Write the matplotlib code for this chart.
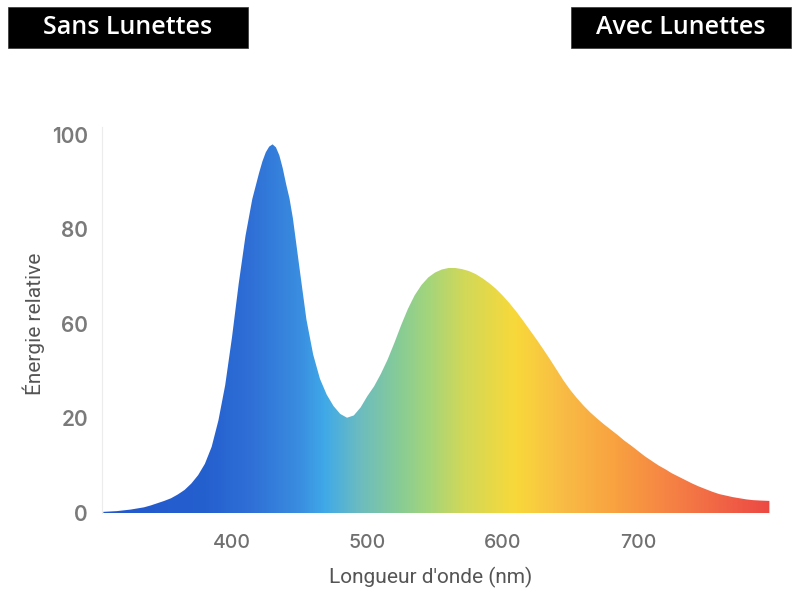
import numpy as np
import matplotlib.pyplot as plt
from matplotlib.colors import LinearSegmentedColormap
from matplotlib.patches import Rectangle

# spectrum (nm, relative energy)
wavelength = [305, 310, 315, 320, 325, 330, 335, 340, 345, 350,
              355, 360, 365, 370, 375, 380, 385, 390, 395, 400,
              405, 410, 415, 420, 422.5, 425, 427.5, 430, 432.5, 435,
              437.5, 440, 442.5, 445, 450,
              455, 460, 465, 470, 475, 480, 485, 490, 495, 500,
              505, 510, 515, 520, 525, 530, 535, 540, 545, 550,
              555, 560, 565, 570, 575, 580, 585, 590, 595, 600,
              605, 610, 615, 620, 625, 630, 635, 640, 645, 650,
              655, 660, 665, 670, 675, 680, 685, 690, 695, 700,
              705, 710, 715, 720, 725, 730, 735, 740, 745, 750,
              755, 760, 765, 770, 775, 780, 785, 790, 797]
energy = [0.3, 0.4, 0.5, 0.7, 0.9, 1.2, 1.5, 2.0, 2.6, 3.2,
          3.9, 4.9, 6.1, 7.8, 10.0, 13.0, 17.5, 24.5, 33.8, 46.4,
          60.7, 73.3, 83.0, 89.9, 93.0, 95.4, 96.9, 97.5, 96.7, 94.6,
          91.2, 87.0, 83.2, 78.0, 64.5,
          51.2, 41.9, 35.5, 31.3, 28.3, 26.2, 25.2, 25.8, 27.9, 30.9,
          33.5, 36.8, 40.6, 45.0, 49.7, 54.0, 57.6, 60.3, 62.3, 63.6,
          64.4, 64.8, 64.8, 64.5, 64.0, 63.2, 62.1, 60.8, 59.3, 57.5,
          55.5, 53.3, 50.9, 48.4, 45.9, 43.3, 40.6, 37.8, 35.0, 32.5,
          30.3, 28.3, 26.5, 24.9, 23.4, 22.0, 20.6, 19.1, 17.8, 16.4,
          15.0, 13.8, 12.6, 11.6, 10.5, 9.6, 8.7, 7.8, 7.0, 6.3,
          5.6, 5.0, 4.6, 4.2, 3.9, 3.6, 3.4, 3.3, 3.2]

x_ticks = [400, 500, 600, 700]
y_tick_pos = [0, 25, 50, 75, 100]
y_tick_labels = ['0', '20', '60', '80', '100']

# colour stops of the rainbow fill
grad_nm = [304, 380, 413, 450, 468, 494, 524, 546, 570, 609, 642, 686, 730, 775, 801]
grad_colors = ['#2358cc', '#2560cf', '#2f6fd6', '#3a8ee0', '#3fa9e8', '#6cbcc0',
               '#88cc95', '#a5d57a', '#cfd85a', '#f8d93a', '#f9be45', '#f8a040',
               '#f57e45', '#ef5a45', '#ec4743']

xmin, xmax = 304, 801
ymin, ymax = 0, 102

fig = plt.figure(figsize=(8, 5.97), dpi=100)
ax = fig.add_axes([0.1275, 0.1407, 0.841, 0.646])

stops = [(n - xmin) / (xmax - xmin) for n in grad_nm]
cmap = LinearSegmentedColormap.from_list('spec', list(zip(stops, grad_colors)))

poly = ax.fill_between(wavelength, energy, 0, color='none', lw=0)
grad = np.linspace(0, 1, 600).reshape(1, -1)
im = ax.imshow(grad, cmap=cmap, aspect='auto', extent=[xmin, xmax, ymin, ymax],
               origin='lower', interpolation='bicubic', zorder=2)
im.set_clip_path(poly.get_paths()[0], transform=ax.transData)

ax.set_xlim(xmin, xmax)
ax.set_ylim(ymin, ymax)

for s in ['top', 'right', 'bottom']:
    ax.spines[s].set_visible(False)
ax.spines['left'].set_color('#ececec')
ax.spines['left'].set_linewidth(0.8)

ax.set_xticks(x_ticks)
ax.set_xticklabels([str(t) for t in x_ticks], fontsize=14, color='#707070',
                   fontfamily='Inter', fontweight='medium')
ax.set_yticks(y_tick_pos)
ax.set_yticklabels(y_tick_labels, fontsize=15, color='#7a7a7a',
                   fontfamily='Inter', fontweight='semibold')
ax.tick_params(axis='x', length=0, pad=15)
ax.tick_params(axis='y', length=0, pad=10)

ax.set_ylabel('Énergie relative', fontsize=15, color='#555555', fontfamily='Roboto')
ax.yaxis.set_label_coords(-0.085, 0.49)
ax.set_xlabel("Longueur d'onde (nm)", fontsize=15, color='#555555', fontfamily='Roboto')
ax.xaxis.set_label_coords(0.489, -0.14)

# black header boxes
W, H = 800, 597
for (x0, x1, label) in [(8, 248, 'Sans Lunettes'), (571, 791, 'Avec Lunettes')]:
    fig.patches.append(Rectangle((x0 / W, 1 - 48 / H), (x1 - x0) / W, 41 / H,
                                 transform=fig.transFigure, facecolor='black',
                                 edgecolor='#333333', lw=0.5))
    fig.text((x0 + x1) / 2 / W, 1 - 27.5 / H, label, color='white', fontsize=18,
             fontfamily='Open Sans', fontweight='semibold', ha='center', va='center')

fig.savefig('out.png', dpi=100, facecolor='white')
